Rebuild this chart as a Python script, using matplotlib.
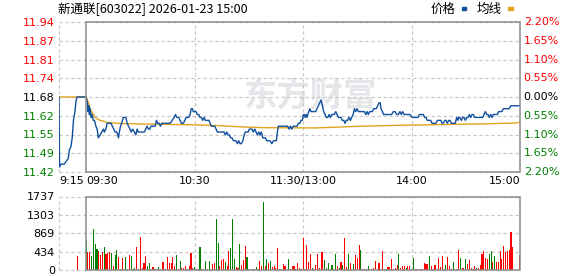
import matplotlib.pyplot as plt
from matplotlib.patches import Rectangle

plt.rcParams['font.family'] = ['DejaVu Sans', 'Noto Sans CJK SC']

title = "新通联[603022] 2026-01-23 15:00"
prev_close = 11.68
pct_step = 0.55
vol_max = 1737

# minutes relative to 09:30 (pre-market is negative)
pre_t = [-15, -14.7, -13.9, -12.1, -11.0, -9.9, -9.2, -8.4, -7.7, -7.0, -6.2, -5.5, -5.0, 0]
pre_p = [11.68, 11.44, 11.45, 11.45, 11.46, 11.47, 11.50, 11.51, 11.54, 11.60, 11.63, 11.67, 11.68, 11.68]

price_t = [0, 0.7, 1.1, 1.5, 1.8, 2.2, 2.8, 3.3, 4.0, 4.6,
           5.4, 6.1, 6.8, 7.7, 8.7, 9.6, 10.1, 10.9, 11.6, 13.8,
           14.5, 15.3, 16.0, 17.0, 17.9, 18.4, 19.0, 19.7, 20.5, 22.0,
           22.7, 23.4, 24.3, 24.9, 25.8, 26.7, 27.5, 28.2, 28.9, 32.2,
           33.0, 33.7, 34.5, 35.2, 35.9, 38.2, 38.9, 39.6, 40.4, 41.1,
           41.9, 46.5, 47.6, 48.7, 49.4, 50.2, 51.3, 52.0, 52.7, 53.8,
           54.6, 55.3, 56.8, 57.5, 58.2, 58.8, 59.3, 60.8, 61.5, 62.3,
           63.0, 63.8, 64.5, 65.3, 66.0, 67.9, 68.6, 69.3, 71.2, 71.9,
           72.6, 76.3, 77.0, 77.8, 78.5, 79.2, 80.0, 80.7, 81.5, 82.9,
           83.7, 84.4, 85.2, 85.9, 86.7, 87.4, 88.1, 89.6, 90.3, 91.8,
           92.5, 93.3, 94.0, 94.7, 95.5, 96.2, 96.9, 97.7, 99.2, 99.9,
           101.8, 102.7, 103.6, 105.2, 105.8, 106.3, 111.5, 112.3, 113.0, 113.8,
           114.5, 116.7, 117.4, 118.2, 118.9, 119.6, 120.2, 120.7, 121.1, 121.8,
           122.2, 122.6, 123.2, 123.7, 124.4, 127.0, 127.7, 128.5, 129.2, 130.0,
           130.7, 131.4, 132.2, 132.9, 133.7, 134.4, 135.1, 135.9, 137.3, 138.1,
           138.8, 139.5, 141.0, 141.7, 142.5, 143.2, 143.9, 144.7, 145.4, 146.2,
           146.9, 147.7, 148.4, 149.1, 149.9, 150.6, 153.9, 154.7, 155.4, 156.1,
           156.9, 158.3, 159.1, 160.5, 161.3, 162.0, 162.7, 163.1, 163.9, 164.6,
           169.0, 169.9, 170.8, 171.8, 172.7, 173.6, 174.4, 175.1, 175.9, 179.2,
           180.3, 183.6, 184.3, 186.5, 187.3, 188.0, 188.7, 190.6, 191.3, 193.5,
           194.3, 196.2, 196.9, 197.6, 198.4, 199.1, 199.8, 200.6, 201.3, 202.0,
           204.2, 205.0, 205.7, 206.1, 206.8, 207.5, 208.3, 209.0, 209.8, 210.5,
           211.3, 212.0, 212.7, 213.5, 214.2, 214.9, 219.4, 220.1, 220.8, 221.6,
           222.3, 223.0, 223.8, 224.5, 225.2, 227.5, 228.2, 230.0, 230.8, 234.1,
           234.9, 240]
price_p = [11.68, 11.66, 11.63, 11.65, 11.62, 11.64, 11.61, 11.62, 11.60, 11.60,
           11.58, 11.57, 11.54, 11.55, 11.56, 11.57, 11.56, 11.57, 11.59, 11.59,
           11.58, 11.57, 11.56, 11.56, 11.54, 11.56, 11.58, 11.59, 11.61, 11.61,
           11.59, 11.58, 11.57, 11.56, 11.57, 11.56, 11.55, 11.57, 11.56, 11.56,
           11.57, 11.58, 11.57, 11.57, 11.58, 11.58, 11.60, 11.59, 11.59, 11.58,
           11.59, 11.59, 11.60, 11.61, 11.62, 11.61, 11.61, 11.60, 11.59, 11.59,
           11.60, 11.61, 11.61, 11.62, 11.64, 11.64, 11.63, 11.63, 11.62, 11.62,
           11.61, 11.61, 11.60, 11.61, 11.60, 11.60, 11.59, 11.58, 11.58, 11.57,
           11.56, 11.56, 11.55, 11.56, 11.55, 11.55, 11.54, 11.54, 11.53, 11.53,
           11.52, 11.53, 11.52, 11.52, 11.53, 11.55, 11.56, 11.56, 11.57, 11.57,
           11.56, 11.57, 11.56, 11.55, 11.56, 11.55, 11.56, 11.54, 11.54, 11.53,
           11.53, 11.52, 11.53, 11.53, 11.56, 11.58, 11.58, 11.57, 11.58, 11.57,
           11.58, 11.58, 11.59, 11.59, 11.60, 11.60, 11.62, 11.62, 11.61, 11.62,
           11.61, 11.62, 11.63, 11.64, 11.63, 11.63, 11.64, 11.65, 11.66, 11.67,
           11.65, 11.63, 11.62, 11.61, 11.61, 11.62, 11.61, 11.62, 11.62, 11.63,
           11.62, 11.61, 11.61, 11.60, 11.60, 11.59, 11.60, 11.60, 11.61, 11.60,
           11.61, 11.62, 11.64, 11.63, 11.64, 11.63, 11.63, 11.62, 11.63, 11.62,
           11.63, 11.63, 11.64, 11.64, 11.65, 11.66, 11.66, 11.64, 11.63, 11.62,
           11.62, 11.63, 11.63, 11.62, 11.62, 11.63, 11.62, 11.63, 11.62, 11.62,
           11.61, 11.61, 11.62, 11.62, 11.61, 11.61, 11.60, 11.60, 11.59, 11.59,
           11.60, 11.60, 11.59, 11.59, 11.60, 11.60, 11.59, 11.60, 11.60, 11.59,
           11.59, 11.61, 11.60, 11.61, 11.61, 11.60, 11.61, 11.61, 11.60, 11.61,
           11.61, 11.62, 11.61, 11.62, 11.62, 11.61, 11.61, 11.62, 11.63, 11.62,
           11.62, 11.61, 11.62, 11.61, 11.62, 11.62, 11.63, 11.63, 11.64, 11.64,
           11.65, 11.65]

avg_t = [-15, 0, 1.3, 2.2, 3.2, 4.0, 5.0, 5.9, 7.7, 9.6, 11.4, 19.7, 35, 57, 73, 85, 97,
         126, 136, 148, 173, 220, 238, 240]
avg_p = [11.68, 11.68, 11.66, 11.64, 11.629, 11.619, 11.61, 11.606, 11.60, 11.597, 11.593,
         11.589, 11.587, 11.585, 11.582, 11.578, 11.575, 11.574, 11.576, 11.579, 11.583,
         11.588, 11.591, 11.594]

pre_vol_t = -5
pre_vol = 332

vol = [711, 427, 427, 332, 972, 616, 498, 450, 363, 427,
       545, 387, 403, 420, 403, 95, 356, 474, 308, 24,
       284, 24, 308, 24, 356, 332, 24, 47, 545, 32,
       782, 47, 166, 332, 95, 174, 24, 71, 24, 24,
       71, 24, 190, 190, 24, 308, 166, 166, 308, 95,
       356, 24, 213, 40, 47, 95, 24, 95, 403, 47,
       79, 24, 24, 545, 24, 32, 213, 24, 213, 24,
       142, 166, 1209, 640, 95, 237, 261, 190, 95, 450,
       521, 1209, 261, 63, 47, 616, 118, 237, 569, 308,
       24, 24, 24, 24, 63, 24, 213, 95, 1612, 95,
       261, 166, 213, 79, 95, 47, 521, 32, 24, 142,
       95, 24, 261, 24, 95, 95, 24, 166, 47, 24,
       758, 24, 593, 190, 379, 47, 24, 118, 379, 47,
       427, 427, 237, 47, 166, 24, 118, 24, 379, 95,
       47, 190, 118, 758, 63, 379, 166, 24, 142, 356,
       284, 593, 474, 24, 24, 24, 95, 24, 24, 47,
       213, 24, 166, 24, 450, 24, 24, 63, 63, 261,
       32, 47, 118, 379, 47, 95, 95, 47, 95, 95,
       24, 284, 24, 24, 24, 24, 24, 166, 142, 142,
       332, 95, 24, 118, 24, 284, 71, 332, 24, 118,
       308, 95, 24, 190, 24, 24, 474, 284, 47, 47,
       261, 142, 237, 47, 24, 95, 47, 47, 118, 379,
       450, 284, 261, 379, 450, 190, 332, 190, 190, 450,
       261, 569, 427, 450, 474, 901, 545, 0, 0, 0,
       356]
vol_dir = "".join(["DUUDDDDUUU", "DUUUDUDDUD", "UDDDUDDDUD", "UUUUDDUUUU",
                   "DDUUUUUUUU", "DUDUUUDUUU", "DUDDUUDUDD", "UUDDUUUDUU",
                   "DDDUUDUUUD", "UUDUDUUUDU", "DUDUUUUUUU", "UDDUUUDUUU",
                   "UDUUUDUUUU", "UUDDDUDUDU", "DUDUUDUUDU", "UUDUUUDUUU",
                   "UUUUUDDUUU", "UUUDUUUDUU", "DDUUUUUUUU", "DUUUUUUUUD",
                   "UUUDUUUDUU", "DUUUDUDUUU", "UUUDDUDUUU", "UUUUUUUUUU", "U"])

x_ticks = [-15, 0, 60, 120, 180, 240]
x_labels = ["9:15", "09:30", "10:30", "11:30/13:00", "14:00", "15:00"]

RED = '#ff0000'
GREEN = '#008000'
GRID = '#c8c8c8'
FRAME = '#8c8c8c'
DASH = (0, (2.6, 2.2))

fig = plt.figure(figsize=(5.78, 2.76), dpi=100)
W, H = 578.0, 276.0


def box(x0, y0, x1, y1):
    return [x0 / W, 1 - y1 / H, (x1 - x0) / W, (y1 - y0) / H]


def sign_color(v):
    if v > 1e-9:
        return RED
    if v < -1e-9:
        return GREEN
    return 'black'


ax = fig.add_axes(box(59, 22, 520, 172))
axv = fig.add_axes(box(59, 196.5, 520, 270))

pcts = [pct_step * k for k in range(4, -5, -1)]
levels = [prev_close * (1 + p / 100) for p in pcts]
lo, hi = min(levels), max(levels)

# ---- price panel ----
ax.set_xlim(-15, 240)
ax.set_ylim(lo, hi)
for s in ax.spines.values():
    s.set_visible(False)
for lv in levels:
    ax.axhline(lv, color=GRID, lw=0.9, ls=DASH, zorder=1, clip_on=False)
for xv in [-15, 60, 120, 180]:
    ax.axvline(xv, color=GRID, lw=0.9, ls=DASH, zorder=1, clip_on=False)
ax.add_patch(Rectangle((0, lo), 240, hi - lo, fill=False, ec=FRAME, lw=1.1,
                       zorder=4, clip_on=False))

ax.text(0.545, 0.5, "东方财富", transform=ax.transAxes, fontsize=24,
        color='#e6e6ea', weight='bold', ha='center', va='center', zorder=0,
        family=['Noto Sans CJK SC'])

ax.plot(avg_t, avg_p, color='#e2a31f', lw=1.0, zorder=2)
ax.plot(pre_t + price_t, pre_p + price_p, color='#10509e', lw=1.0, zorder=3)

ax.set_yticks(levels)
ax.set_yticklabels([f"{v:.2f}" for v in levels])
for lab, p in zip(ax.get_yticklabels(), pcts):
    lab.set_color(sign_color(p))
for lv, p in zip(levels, pcts):
    ax.text(1.008, lv, f"{abs(p):.2f}%", transform=ax.get_yaxis_transform(),
            ha='left', va='center', fontsize=8, color=sign_color(p))

ax.set_xticks(x_ticks)
ax.set_xticklabels(x_labels)
for lab, ha in zip(ax.get_xticklabels(), ['left', 'left', 'center', 'center', 'center', 'right']):
    lab.set_horizontalalignment(ha)
ax.tick_params(length=0, labelsize=8, pad=3)

# ---- volume panel ----
vol_ticks = [int(vol_max * k / 4 + 0.5) for k in range(5)]
axv.set_xlim(-15, 240)
axv.set_ylim(0, vol_max)
for s in axv.spines.values():
    s.set_visible(False)
for tv in vol_ticks:
    axv.axhline(tv, color=GRID, lw=0.9, ls=DASH, zorder=1, clip_on=False)
for xv in [-15, 60, 120, 180]:
    axv.axvline(xv, color=GRID, lw=0.9, ls=DASH, zorder=1, clip_on=False)
axv.add_patch(Rectangle((0, 0), 240, vol_max, fill=False, ec=FRAME, lw=1.1,
                        zorder=4, clip_on=False))

vol_t = list(range(len(vol)))
cols = [RED if d == 'U' else GREEN for d in vol_dir]
axv.bar([pre_vol_t] + vol_t, [pre_vol] + vol, width=0.6, color=[RED] + cols,
        linewidth=0, antialiased=False, zorder=2)

axv.set_yticks(vol_ticks)
axv.set_yticklabels([str(v) for v in vol_ticks])
axv.set_xticks([])
axv.tick_params(length=0, labelsize=8, pad=3)

# ---- header ----
fig.text(58 / W, 1 - 9 / H, title, fontsize=9, va='center', ha='left',
         family=['Noto Sans CJK SC', 'DejaVu Sans'])
fig.text(431 / W, 1 - 9 / H, "价格", fontsize=9, va='center', ha='left',
         family=['Noto Sans CJK SC'])
fig.text(477 / W, 1 - 9 / H, "均线", fontsize=9, va='center', ha='left',
         family=['Noto Sans CJK SC'])
fig.patches.append(Rectangle((462 / W, 1 - 10 / H), 4 / W, 3 / H, color='#10509e',
                             transform=fig.transFigure, figure=fig))
fig.patches.append(Rectangle((508 / W, 1 - 10 / H), 5 / W, 3 / H, color='#e2a31f',
                             transform=fig.transFigure, figure=fig))

fig.savefig("out.png", dpi=100)
